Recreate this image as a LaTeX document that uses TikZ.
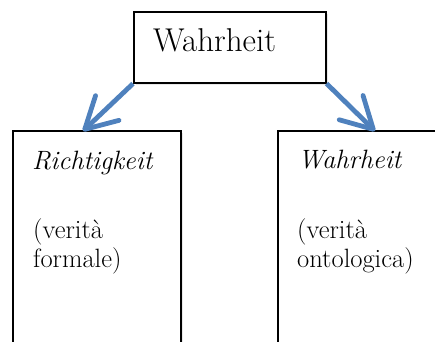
\documentclass[tikz,border=0pt]{standalone}
\usetikzlibrary{arrows.meta,shadows}
\definecolor{arrblue}{HTML}{4F81BD}
\begin{document}
\begin{tikzpicture}[x=1pt,y=-1pt,
  box/.style={draw=black, line width=1.6pt, fill=white, inner sep=0pt, anchor=north west,
    drop shadow={opacity=0.18, shadow xshift=2pt, shadow yshift=-2pt}},
  arr/.style={draw=arrblue, line width=4.8pt,
    -{Straight Barb[length=31pt, width=34pt, line width=4.8pt, round]}},
  big/.style={font=\fontsize{33}{38}\selectfont, inner sep=0pt, anchor=base west},
  ital/.style={font=\fontsize{26.5}{30}\selectfont\itshape, inner sep=0pt, anchor=base west},
  sub/.style={font=\fontsize{26.5}{29}\selectfont, inner sep=0pt, anchor=base west}]
\useasboundingbox (0,0) rectangle (435,341);
\begin{scope}
\clip (0,0) rectangle (435,341);
\node[box, minimum width=192pt, minimum height=71pt] (top) at (133,11) {};
\node[box, minimum width=168pt, minimum height=240pt] (left) at (12,130) {};
\node[box, minimum width=190pt, minimum height=240pt] (right) at (277,130) {};
\end{scope}
\node[big] (toplabel) at (153,51) {Wahrheit};
\node[ital] (ltitle) at (32,169) {Richtigkeit};
\node[sub] (l1) at (33,238) {(verità};
\node[sub] (l2) at (33,267) {formale)};
\node[ital] (rtitle) at (298,168) {Wahrheit};
\node[sub] (r1) at (297,238) {(verità};
\node[sub] (r2) at (297,267) {ontologica)};
\coordinate (lt) at (83,131);
\coordinate (rt) at (375,131);
\draw[arr] (top.south west) -- (lt);
\draw[arr] (top.south east) -- (rt);
\end{tikzpicture}
\end{document}
